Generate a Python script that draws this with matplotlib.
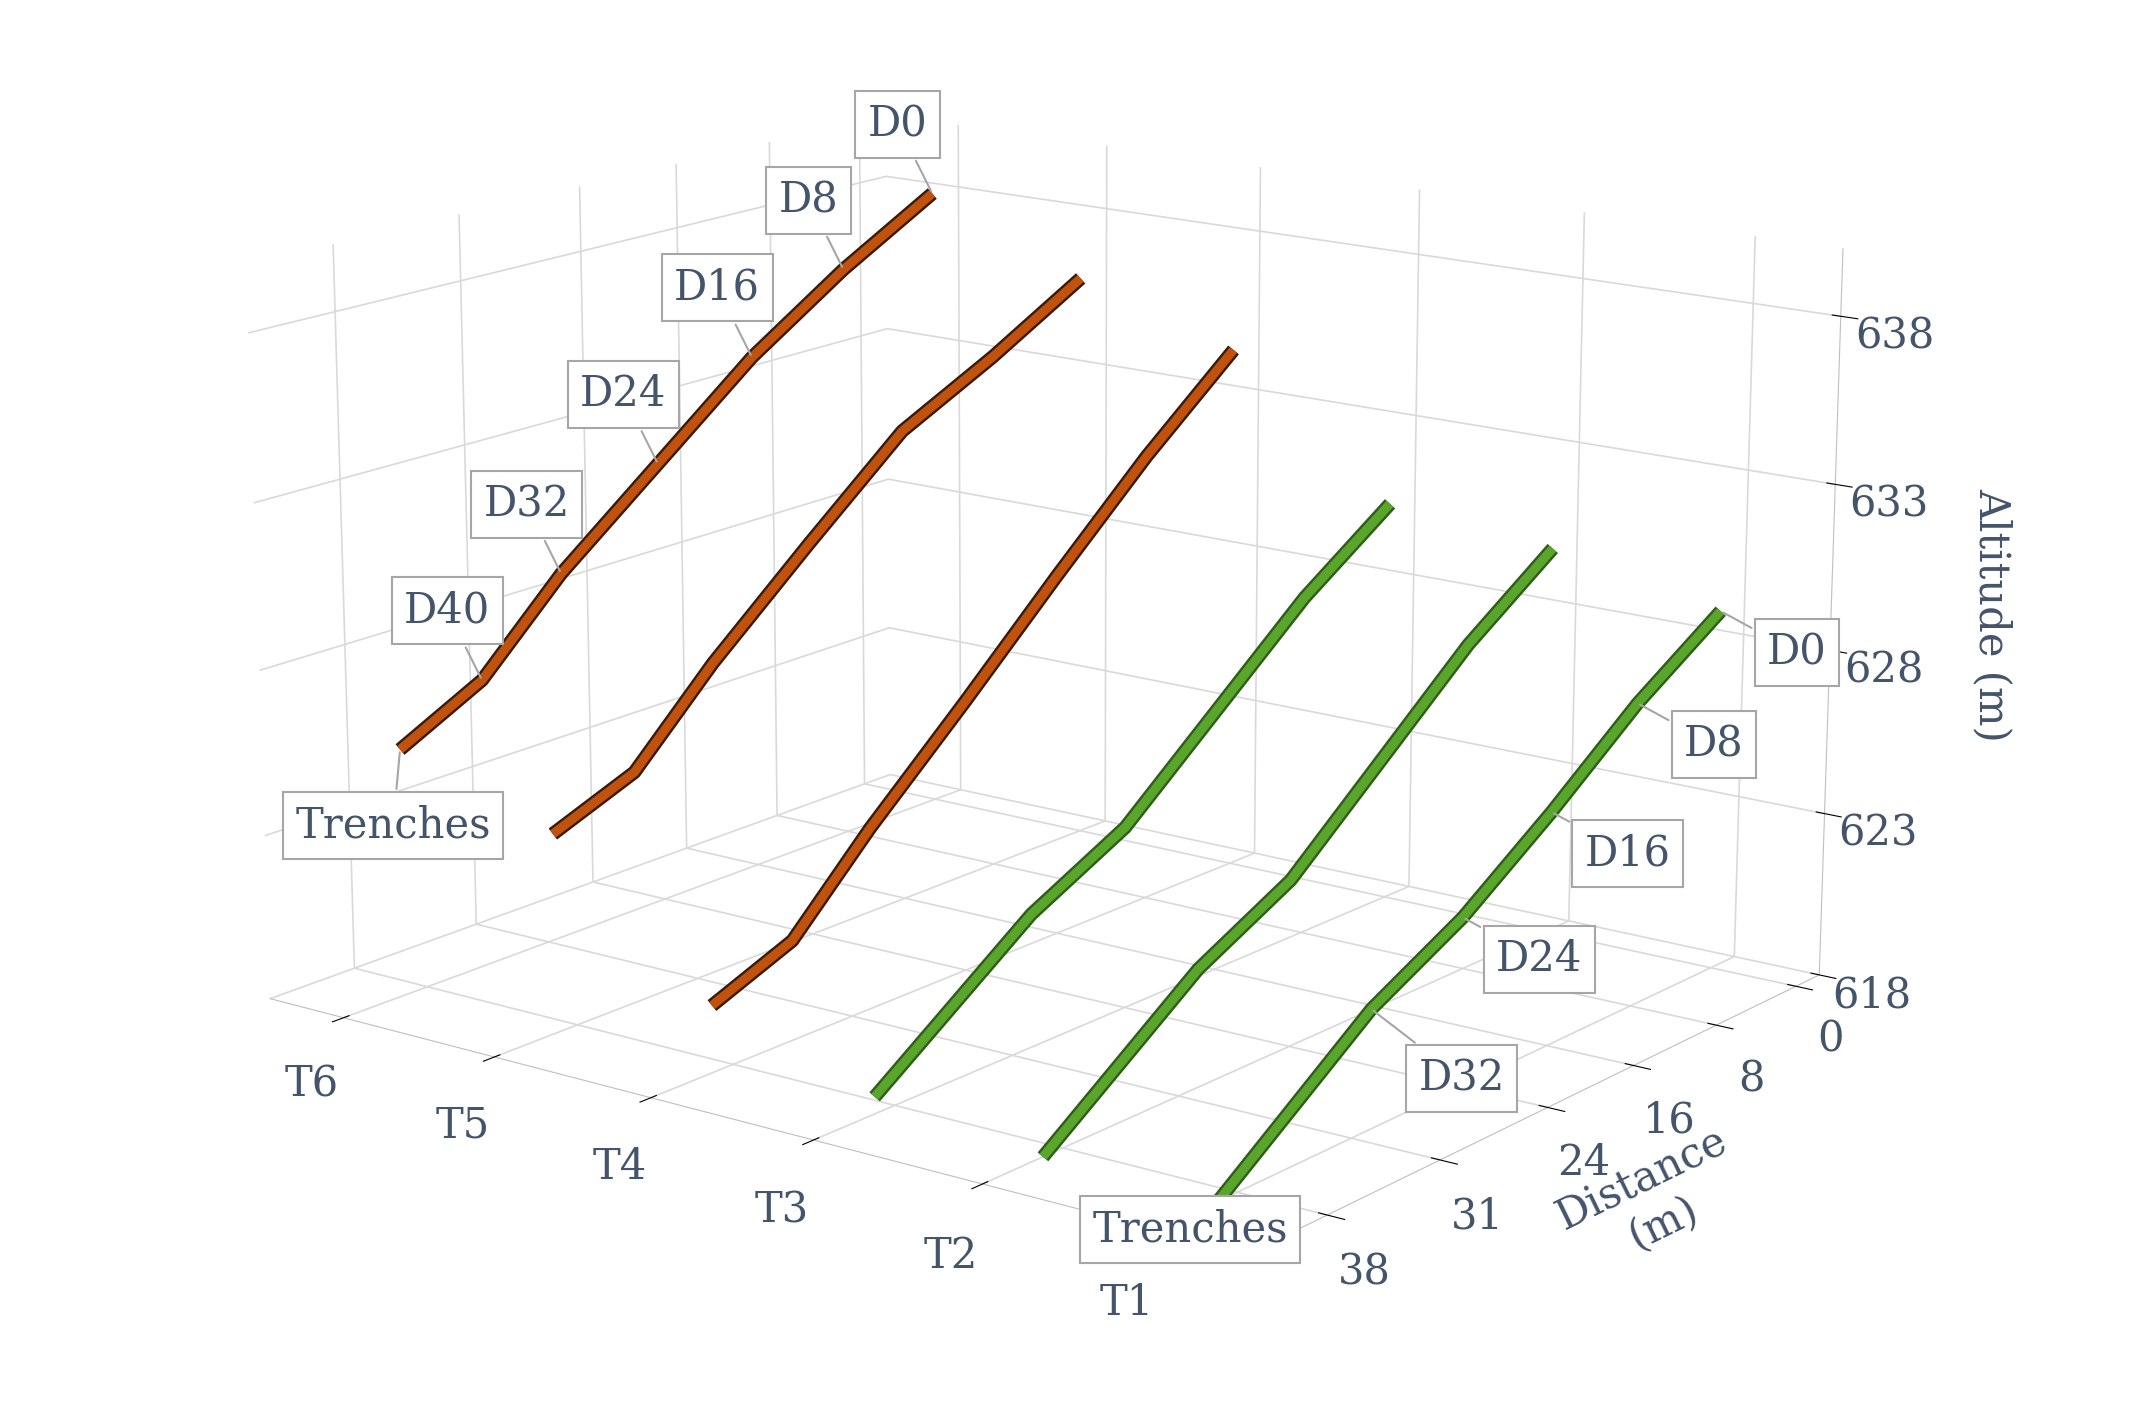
import numpy as np
import matplotlib.pyplot as plt
from mpl_toolkits.mplot3d import proj3d

series = ['T1', 'T2', 'T3', 'T4', 'T5', 'T6']
dist_ticks = ['0', '8', '16', '24', '31', '38']
# points: D0, D8, D16, D24, D32, D40, Trenches
alt = {
    'T6': [638.0, 636.3, 634.3, 631.8, 629.3, 626.8, 625.5],
    'T5': [636.0, 634.3, 632.8, 630.2, 627.5, 625.0, 624.0],
    'T4': [634.5, 632.0, 629.2, 626.3, 623.5, 621.0, 620.0],
    'T3': [630.5, 628.5, 626.0, 623.5, 622.0, np.nan, 618.5],
    'T2': [630.0, 628.0, 625.5, 623.0, 621.5, np.nan, 618.0],
    'T1': [629.0, 627.2, 625.0, 623.0, 621.5, np.nan, 618.0],
}
colors = {'T1': '#5aa52c', 'T2': '#5aa52c', 'T3': '#5aa52c',
          'T4': '#c0520e', 'T5': '#c0520e', 'T6': '#c0520e'}
labels_t6 = ['D0', 'D8', 'D16', 'D24', 'D32', 'D40', 'Trenches']
labels_t1 = ['D0', 'D8', 'D16', 'D24', 'D32', None, 'Trenches']
txtc = '#44546a'

fig = plt.figure(figsize=(21.38, 14.13), dpi=100)
ax = fig.add_axes([-0.08, -0.06, 1.12, 1.2], projection='3d')
ax.set_proj_type('persp', focal_length=0.7)
ax.view_init(elev=15, azim=127)
ax.set_box_aspect((1.2, 1.0, 0.75))

ypos = np.array([0, 1, 2, 3, 4, 4.8, 5.6])
for i, s in enumerate(series):
    x = i
    v = np.array(alt[s])
    m = ~np.isnan(v)
    dark = '#3a1a08' if i > 2 else '#2f5e18'
    ax.plot(np.full(m.sum(), x), ypos[m], v[m], color=dark, lw=10, solid_capstyle='butt')
    ax.plot(np.full(m.sum(), x), ypos[m], v[m], color=colors[s], lw=6.5, solid_capstyle='butt')

ax.set_xlim(-0.5, 5.5)
ax.set_ylim(-0.3, 6.2)
ax.set_zlim(618, 640)
ax.set_xticks(range(6))
ax.set_xticklabels(series, fontsize=30, color=txtc, family='DejaVu Serif')
ax.set_yticks([0, 1, 2, 3, 4.2, 5.4])
ax.set_yticklabels(dist_ticks, fontsize=30, color=txtc, family='DejaVu Serif')
ax.set_zticks([618, 623, 628, 633, 638])
ax.set_zticklabels(['618', '623', '628', '633', '638'], fontsize=30, color=txtc, family='DejaVu Serif')
ax.set_ylabel('Distance\n(m)', fontsize=30, color=txtc, labelpad=40, family='DejaVu Serif')
ax.zaxis.set_rotate_label(False)
ax.set_zlabel('Altitude (m)', fontsize=30, color=txtc, labelpad=45, family='DejaVu Serif', rotation=-90)
for a in (ax.xaxis, ax.yaxis, ax.zaxis):
    a.set_pane_color((1, 1, 1, 0))
    a._axinfo['grid']['color'] = '#d9d9d9'
    a._axinfo['grid']['linewidth'] = 1.2
    a.line.set_color('#bfbfbf')
ax.tick_params(axis='both', pad=14)
ax.tick_params(axis='x', pad=22)

fig.canvas.draw()
M = ax.get_proj()
bb = dict(boxstyle='square,pad=0.3', fc='white', ec='#a6a6a6', lw=1.5)
for k, lab in enumerate(labels_t6):
    px, py, _ = proj3d.proj_transform(5, ypos[k], alt['T6'][k], M)
    off = (-5, -55) if lab == 'Trenches' else (-25, 50)
    ax.annotate(lab, (px, py), xytext=off, textcoords='offset points', fontsize=30, color=txtc,
                ha='center', va='center', bbox=bb, family='DejaVu Serif',
                arrowprops=dict(arrowstyle='-', color='#a6a6a6', lw=1.5))
for k, lab in enumerate(labels_t1):
    if lab is None:
        continue
    px, py, _ = proj3d.proj_transform(0, ypos[k], alt['T1'][k], M)
    off = (-20, -20) if lab == 'Trenches' else (55, -30)
    if lab == 'D32':
        off = (65, -50)
    ax.annotate(lab, (px, py), xytext=off, textcoords='offset points', fontsize=30, color=txtc,
                ha='center', va='center', bbox=bb, family='DejaVu Serif',
                arrowprops=dict(arrowstyle='-', color='#a6a6a6', lw=1.5))

fig.savefig('out.png', dpi=100, facecolor='white')
